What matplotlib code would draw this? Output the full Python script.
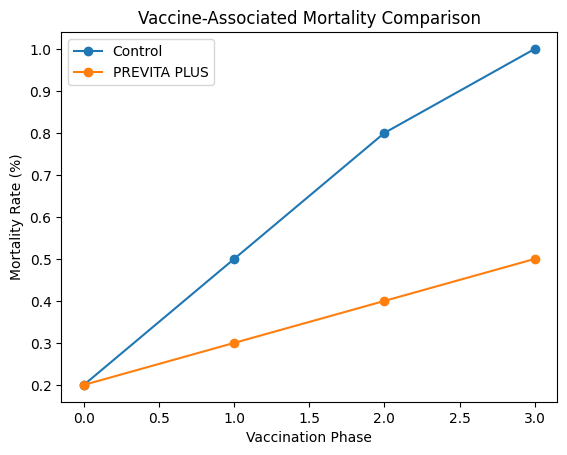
import matplotlib
matplotlib.use("Agg")
import matplotlib.pyplot as plt

phases = [0, 1, 2, 3]
control = [0.2, 0.5, 0.8, 1.0]
previta = [0.2, 0.3, 0.4, 0.5]

fig, ax = plt.subplots(figsize=(6.4, 4.8), dpi=100)
ax.plot(phases, control, marker='o', label='Control')
ax.plot(phases, previta, marker='o', label='PREVITA PLUS')
ax.set_title('Vaccine-Associated Mortality Comparison')
ax.set_xlabel('Vaccination Phase')
ax.set_ylabel('Mortality Rate (%)')
ax.legend(loc='upper left')
fig.savefig('out.png', bbox_inches='tight')
